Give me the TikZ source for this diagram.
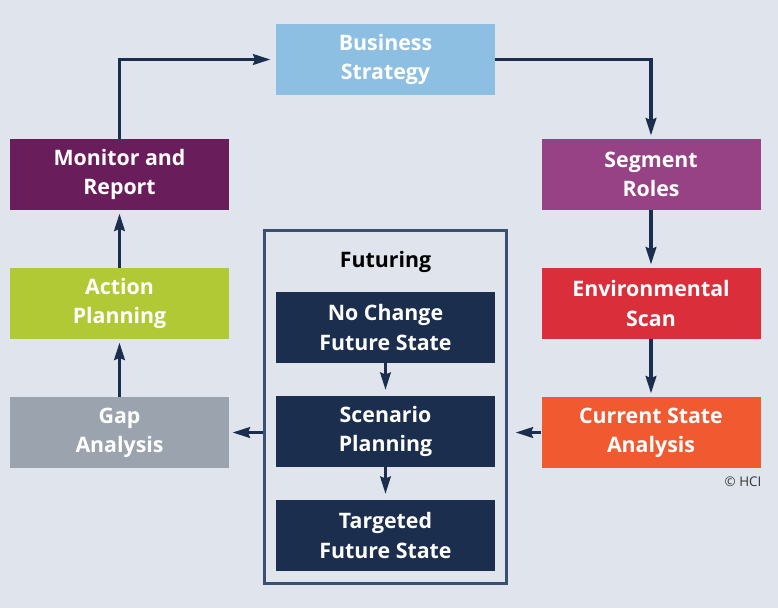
\documentclass[tikz,border=0pt]{standalone}
\usepackage{fontspec}
\setmainfont{Open Sans}
\usetikzlibrary{arrows.meta}

\definecolor{canvas}{HTML}{E0E5ED}
\definecolor{navy}{HTML}{1B2E4E}
\definecolor{framenavy}{HTML}{3A5073}
\definecolor{stratblue}{HTML}{8DBFE2}
\definecolor{monpurple}{HTML}{6A1D5B}
\definecolor{segpurple}{HTML}{974285}
\definecolor{actgreen}{HTML}{B0C934}
\definecolor{envred}{HTML}{DA2F3B}
\definecolor{gapgrey}{HTML}{9BA3AE}
\definecolor{curorange}{HTML}{F15A31}

\begin{document}
\begin{tikzpicture}[x=0.75pt,y=-0.75pt,
    box/.style={rectangle,inner sep=0pt,minimum width=164.25pt,minimum height=53.25pt,
        align=center,text=white,font=\bfseries\fontsize{16}{21.8}\selectfont},
    flow/.style={draw=navy,line width=2.3pt,-{Stealth[length=13pt,width=8pt,inset=1.5pt]},
        shorten >=2.5pt},
    inflow/.style={flow,line width=1.8pt,shorten >=4.5pt}]
    \fill[canvas] (0,0) rectangle (778,608);

    \node[box,fill=stratblue] (strategy) at (385.5,59.5)  {Business\\Strategy};
    \node[box,fill=monpurple] (monitor)  at (119.5,174.5) {Monitor and\\Report};
    \node[box,fill=segpurple] (segment)  at (651,174.5)   {Segment\\Roles};
    \node[box,fill=actgreen]  (action)   at (119.5,303.5) {Action\\Planning};
    \node[box,fill=envred]    (envscan)  at (651,303.5)   {Environmental\\Scan};
    \node[box,fill=gapgrey]   (gap)      at (119.5,432.5) {Gap\\Analysis};
    \node[box,fill=curorange] (current)  at (651,432.5)   {Current State\\Analysis};

    \node[draw=framenavy,line width=2.2pt,minimum width=181pt,minimum height=265pt,inner sep=0pt]
        (futuring) at (385.5,407) {};
    \node[font=\bfseries\fontsize{16}{18}\selectfont,text=black] (futlabel) at (385.5,262) {Futuring};
    \node[box,fill=navy] (nochange) at (385.5,327.5) {No Change\\Future State};
    \node[box,fill=navy] (scenario) at (385.5,431.5) {Scenario\\Planning};
    \node[box,fill=navy] (targeted) at (385.5,535.5) {Targeted\\Future State};

    \node[font=\fontsize{10}{12}\selectfont,text=black!80] (copyright) at (743,482) {© HCI};

    \draw[flow,shorten >=4pt] (monitor.north) |- (strategy.west);
    \draw[flow] (strategy.east) -| (segment.north);
    \draw[flow] (segment) -- (envscan);
    \draw[flow] (envscan) -- (current);
    \draw[flow,shorten >=6pt] (current.west) -- (current.west -| futuring.east);
    \draw[flow] (gap.east -| futuring.west) -- (gap.east);
    \draw[flow] (gap) -- (action);
    \draw[flow] (action) -- (monitor);
    \draw[inflow] (nochange) -- (scenario);
    \draw[inflow] (scenario) -- (targeted);
\end{tikzpicture}
\end{document}
